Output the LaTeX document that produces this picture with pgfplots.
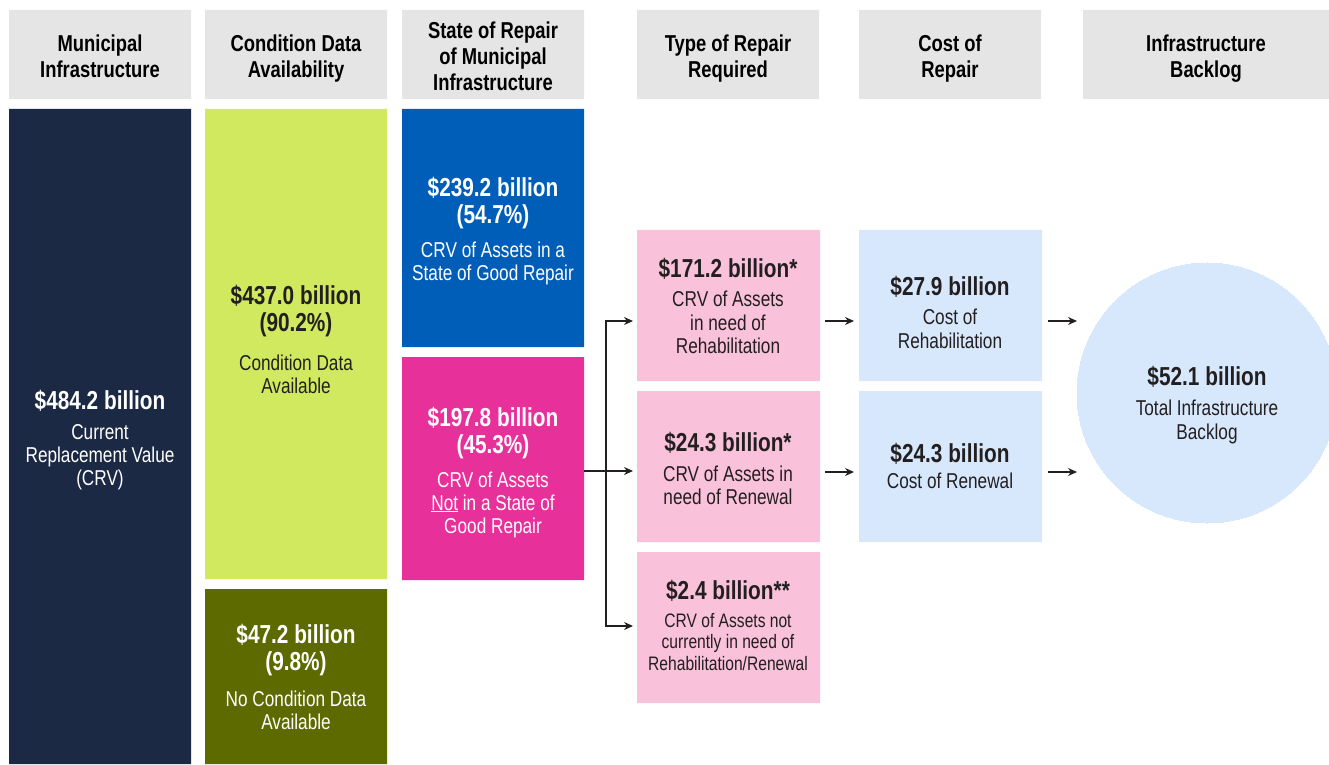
\documentclass[border=0pt]{standalone}
\usepackage{fontspec}
\setmainfont{Liberation Sans}[FakeStretch=0.8]
\usepackage{pgfplots}
\pgfplotsset{compat=1.18}
\usetikzlibrary{arrows.meta}
\definecolor{hdr}{HTML}{E5E5E5}
\definecolor{navy}{HTML}{1B2944}
\definecolor{lime}{HTML}{D0E95F}
\definecolor{olive}{HTML}{5C6A00}
\definecolor{cblue}{HTML}{005EB8}
\definecolor{cmag}{HTML}{E8309A}
\definecolor{cpink}{HTML}{F9C1DA}
\definecolor{lblue}{HTML}{D7E8FC}
\definecolor{dtext}{HTML}{231F20}
\newcommand{\hfont}{\fontsize{23}{26}\selectfont\bfseries}
\newcommand{\vfont}{\fontsize{26}{27}\selectfont\bfseries}
\newcommand{\bfont}{\fontsize{21.5}{23}\selectfont}
\newcommand{\sfont}{\fontsize{19.5}{21}\selectfont}
\newcommand{\T}[5]{\node[anchor=base,inner sep=0pt,text=#4,font=#5] at (axis cs:#1,#2) {#3};}
\newcommand{\bx}[5]{\addplot[fill=#5,draw=none] coordinates {(#1,#2) (#3,#2) (#3,#4) (#1,#4) (#1,#2)};}
\begin{document}
\begin{tikzpicture}
\begin{axis}[
  width=1329pt, height=764pt, scale only axis,
  xmin=0, xmax=1329, ymin=0, ymax=764, y dir=reverse,
  hide axis, clip=false, set layers,
]
% header boxes
\bx{9}{10}{191}{99}{hdr}
\bx{205}{10}{387}{99}{hdr}
\bx{402}{10}{584}{99}{hdr}
\bx{637}{10}{819}{99}{hdr}
\bx{859}{10}{1041}{99}{hdr}
\bx{1083}{10}{1329}{99}{hdr}
% data boxes
\bx{9}{109}{191}{764}{navy}
\bx{205}{109}{387}{579}{lime}
\bx{205}{589}{387}{764}{olive}
\bx{402}{109}{584}{347}{cblue}
\bx{402}{357}{584}{580}{cmag}
\bx{637}{230}{820}{381}{cpink}
\bx{637}{391}{820}{542}{cpink}
\bx{637}{552}{820}{703}{cpink}
\bx{859}{230}{1042}{381}{lblue}
\bx{859}{391}{1042}{542}{lblue}
% circle
\addplot[only marks, mark=*, color=lblue, mark size=130pt, mark options={fill=lblue, draw=lblue, line width=0pt}] coordinates {(1207,393)};
% connectors
\addplot[dtext, line width=1.2pt, -{Stealth[length=9pt,width=8pt]}] coordinates {(584,471) (633,471)};
\addplot[dtext, line width=1.2pt] coordinates {(606,321) (606,626)};
\addplot[dtext, line width=1.2pt, -{Stealth[length=9pt,width=8pt]}] coordinates {(605.4,321) (633,321)};
\addplot[dtext, line width=1.2pt, -{Stealth[length=9pt,width=8pt]}] coordinates {(605.4,626) (633,626)};
\addplot[dtext, line width=1.2pt, -{Stealth[length=9pt,width=8pt]}] coordinates {(825,321) (854,321)};
\addplot[dtext, line width=1.2pt, -{Stealth[length=9pt,width=8pt]}] coordinates {(825,472) (854,472)};
\addplot[dtext, line width=1.2pt, -{Stealth[length=9pt,width=8pt]}] coordinates {(1048,321) (1077,321)};
\addplot[dtext, line width=1.2pt, -{Stealth[length=9pt,width=8pt]}] coordinates {(1048,472) (1077,472)};
\begin{pgfonlayer}{axis foreground}
% headers
\T{100}{52}{Municipal}{black}{\hfont}
\T{100}{78}{Infrastructure}{black}{\hfont}
\T{296}{52}{Condition Data}{black}{\hfont}
\T{296}{78}{Availability}{black}{\hfont}
\T{493}{39}{State of Repair}{black}{\hfont}
\T{493}{65}{of Municipal}{black}{\hfont}
\T{493}{91}{Infrastructure}{black}{\hfont}
\T{728}{52}{Type of Repair}{black}{\hfont}
\T{728}{78}{Required}{black}{\hfont}
\T{950}{52}{Cost of}{black}{\hfont}
\T{950}{78}{Repair}{black}{\hfont}
\T{1206}{52}{Infrastructure}{black}{\hfont}
\T{1206}{78}{Backlog}{black}{\hfont}
% navy
\T{100}{409}{\$484.2 billion}{white}{\vfont}
\T{100}{439}{Current}{white}{\bfont}
\T{100}{462}{Replacement Value}{white}{\bfont}
\T{100}{485}{(CRV)}{white}{\bfont}
% lime
\T{296}{305}{\$437.0 billion}{dtext}{\vfont}
\T{296}{332}{(90.2\%)}{dtext}{\vfont}
\T{296}{370}{Condition Data}{dtext}{\bfont}
\T{296}{393}{Available}{dtext}{\bfont}
% olive
\T{296}{643}{\$47.2 billion}{white}{\vfont}
\T{296}{670}{(9.8\%)}{white}{\vfont}
\T{296}{706}{No Condition Data}{white}{\bfont}
\T{296}{729}{Available}{white}{\bfont}
% blue
\T{493}{197}{\$239.2 billion}{white}{\vfont}
\T{493}{224}{(54.7\%)}{white}{\vfont}
\T{493}{258}{CRV of Assets in a}{white}{\bfont}
\T{493}{281}{State of Good Repair}{white}{\bfont}
% magenta
\T{493}{426}{\$197.8 billion}{white}{\vfont}
\T{493}{453}{(45.3\%)}{white}{\vfont}
\T{493}{487}{CRV of Assets}{white}{\bfont}
\T{493}{510}{\underline{Not} in a State of}{white}{\bfont}
\T{493}{533}{Good Repair}{white}{\bfont}
% pink 1
\T{728}{278}{\$171.2 billion*}{dtext}{\vfont}
\T{728}{307}{CRV of Assets}{dtext}{\bfont}
\T{728}{330}{in need of}{dtext}{\bfont}
\T{728}{354}{Rehabilitation}{dtext}{\bfont}
% pink 2
\T{728}{451}{\$24.3 billion*}{dtext}{\vfont}
\T{728}{481}{CRV of Assets in}{dtext}{\bfont}
\T{728}{504}{need of Renewal}{dtext}{\bfont}
% pink 3
\T{728}{599}{\$2.4 billion**}{dtext}{\vfont}
\T{728}{627}{CRV of Assets not}{dtext}{\sfont}
\T{728}{648}{currently in need of}{dtext}{\sfont}
\T{728}{670}{Rehabilitation/Renewal}{dtext}{\sfont}
% light blue 1
\T{950}{296}{\$27.9 billion}{dtext}{\vfont}
\T{950}{325}{Cost of}{dtext}{\bfont}
\T{950}{348}{Rehabilitation}{dtext}{\bfont}
% light blue 2
\T{950}{462}{\$24.3 billion}{dtext}{\vfont}
\T{950}{488}{Cost of Renewal}{dtext}{\bfont}
% circle
\T{1207}{385}{\$52.1 billion}{dtext}{\vfont}
\T{1207}{415}{Total Infrastructure}{dtext}{\bfont}
\T{1207}{439}{Backlog}{dtext}{\bfont}
\end{pgfonlayer}
\end{axis}
\pgfresetboundingbox
\useasboundingbox (0,0) rectangle (1329pt,764pt);
\end{tikzpicture}
\end{document}
